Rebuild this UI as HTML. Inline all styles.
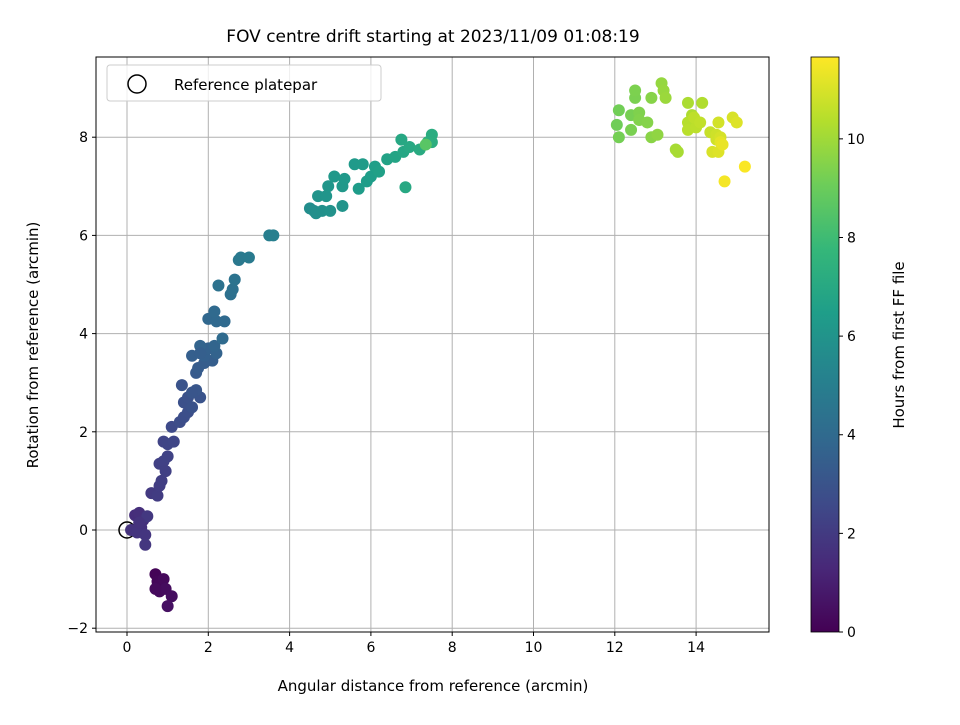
<!DOCTYPE html>
<html><head><meta charset="utf-8"><style>
body{margin:0;background:#fff;font-family:"Liberation Sans","DejaVu Sans",sans-serif}
</style></head><body>
<svg id="chart" width="960" height="720" xmlns="http://www.w3.org/2000/svg" font-family="DejaVu Sans, Liberation Sans, sans-serif">
<defs><linearGradient id="cb" x1="0" y1="1" x2="0" y2="0"></linearGradient></defs>
<text x="433" y="42" font-size="17" text-anchor="middle">FOV centre drift starting at 2023/11/09 01:08:19</text>
<g id="grid"></g><g id="pts"></g><g id="axes"></g>
<text x="433" y="691" font-size="15" text-anchor="middle">Angular distance from reference (arcmin)</text>
<text transform="translate(38,345) rotate(-90)" font-size="15" text-anchor="middle">Rotation from reference (arcmin)</text>
<g>
<rect x="107" y="65" width="274" height="36" rx="3" fill="#fff" fill-opacity="0.8" stroke="#ccc"/>
<circle cx="137" cy="84" r="9" fill="none" stroke="#000" stroke-width="1.5"/>
<text x="174" y="90" font-size="15">Reference platepar</text>
</g>
<rect x="811" y="57" width="28" height="575" fill="url(#cb)" stroke="#000" stroke-width="0.8"/>
<g id="cbticks"></g>
<text transform="translate(904,345) rotate(-90)" font-size="15" text-anchor="middle">Hours from first FF file</text>
</svg>
<script>
const xs=[0.7,0.75,0.8,0.9,0.8,0.95,1.1,1.0,0.7,
0.2,0.3,0.4,0.35,0.1,0.25,0.45,0.45,0.5,0.3,
0.6,0.75,0.8,0.85,0.8,0.9,1.0,0.95,0.9,1.0,1.15,
1.1,1.3,1.4,1.5,1.4,1.5,1.6,1.8,1.7,1.35,1.6,
1.7,1.75,1.9,2.1,1.6,1.9,2.0,2.2,1.8,2.15,1.8,
2.0,2.2,2.15,2.4,2.35,2.55,2.6,2.25,2.65,
2.75,2.8,3.0,3.5,3.6,
4.5,4.6,4.65,4.8,5.0,5.3,4.7,4.9,4.95,5.1,5.3,5.35,5.6,5.8,5.7,5.9,6.0,6.1,6.2,6.4,6.6,6.8,6.75,6.95,7.2,6.85,7.5,7.5,7.4,7.35,
12.05,12.1,12.1,12.4,12.4,12.5,12.5,12.6,12.6,12.8,12.9,12.9,13.05,13.15,13.2,13.25,13.5,13.55,
13.8,13.9,14.15,13.8,13.8,14.0,13.95,14.1,14.35,14.5,14.5,14.55,14.6,14.4,14.55,14.6,14.65,14.9,15.0,14.7,15.2];
const ys=[-0.9,-1.05,-1.1,-1.0,-1.25,-1.2,-1.35,-1.55,-1.2,
0.3,0.35,0.2,0.05,0.0,-0.05,-0.1,-0.3,0.28,0.15,
0.75,0.7,0.9,1.0,1.35,1.4,1.5,1.2,1.8,1.75,1.8,
2.1,2.2,2.3,2.4,2.6,2.7,2.5,2.7,2.85,2.95,2.8,
3.2,3.3,3.4,3.45,3.55,3.55,3.7,3.6,3.75,3.75,3.6,
4.3,4.25,4.45,4.25,3.9,4.8,4.9,4.98,5.1,
5.5,5.55,5.55,6.0,6.0,
6.55,6.5,6.45,6.5,6.5,6.6,6.8,6.8,7.0,7.2,7.0,7.15,7.45,7.45,6.95,7.1,7.2,7.4,7.3,7.55,7.6,7.7,7.95,7.8,7.75,6.98,8.05,7.9,7.9,7.85,
8.25,8.55,8.0,8.45,8.15,8.8,8.95,8.5,8.35,8.3,8.8,8.0,8.05,9.1,8.95,8.8,7.75,7.7,
8.7,8.45,8.7,8.3,8.15,8.2,8.4,8.3,8.1,8.05,7.95,8.3,8.0,7.7,7.7,7.9,7.85,8.4,8.3,7.1,7.4];
const ts=[0.1,0.15,0.2,0.25,0.3,0.35,0.4,0.5,0.3,
1.5,1.55,1.6,1.65,1.7,1.75,1.8,1.85,1.9,1.7,
2.0,2.05,2.1,2.15,2.2,2.25,2.3,2.2,2.35,2.4,2.45,
2.6,2.7,2.75,2.8,2.85,2.9,2.95,3.0,3.1,3.0,3.05,
3.3,3.35,3.4,3.45,3.5,3.55,3.6,3.65,3.7,3.75,3.5,
3.9,3.95,4.0,4.0,4.05,4.3,4.35,4.4,4.45,
4.7,4.75,4.8,5.0,5.05,
5.7,5.75,5.8,5.85,5.9,6.0,6.0,6.05,6.1,6.2,6.2,6.25,6.3,6.35,6.4,6.45,6.5,6.55,6.6,6.7,6.8,6.9,6.95,7.0,7.1,7.0,7.2,7.25,7.3,8.6,
9.1,9.15,9.2,9.25,9.3,9.3,9.35,9.4,9.45,9.5,9.55,9.6,9.7,9.8,9.85,9.9,10.1,10.15,
10.2,10.25,10.3,10.4,10.45,10.5,10.55,10.6,10.7,10.8,10.85,10.9,10.95,11.0,11.1,11.2,11.3,11.0,11.1,11.5,11.6];
const xTicks=[0,2,4,6,8,10,12,14], yTicks=[-2,0,2,4,6,8], cTicks=[0,2,4,6,8,10];
const X0=96,X1=769,Y0=57,Y1=632;
const sx=v=>127+v*40.65, sy=v=>530-v*49.1;
const TMAX=11.66, cy=t=>632-t/TMAX*575;
const V=[[68,1,84],[72,40,120],[62,74,137],[49,104,142],[38,130,142],[31,158,137],[53,183,121],[109,205,89],[180,222,44],[253,231,37]];
function vir(f){f=Math.max(0,Math.min(1,f))*9;const i=Math.min(8,Math.floor(f)),r=f-i;const c=V[i].map((a,k)=>Math.round(a+(V[i+1][k]-a)*r));return`rgb(${c})`;}
const NS="http://www.w3.org/2000/svg";
function mk(tag,attrs,parent,txt){const e=document.createElementNS(NS,tag);for(const k in attrs)e.setAttribute(k,attrs[k]);if(txt!==undefined)e.textContent=txt;document.getElementById(parent).appendChild(e);return e;}
const gr=document.querySelector('#cb');
for(let i=0;i<=9;i++){const s=document.createElementNS(NS,'stop');s.setAttribute('offset',i/9);s.setAttribute('stop-color',`rgb(${V[i]})`);gr.appendChild(s);}
xTicks.forEach(v=>{
const l=mk('line',{x1:sx(v),x2:sx(v),y1:Y0,y2:Y1,stroke:'#b0b0b0','stroke-width':1},'grid');


mk('line',{x1:sx(v),x2:sx(v),y1:Y1,y2:Y1+4,stroke:'#000'},'axes');
const t=mk('text',{x:sx(v),y:Y1+20,'font-size':14,'text-anchor':'middle'},'axes',String(v));


});
yTicks.forEach(v=>{
const l=mk('line',{x1:X0,x2:X1,y1:sy(v),y2:sy(v),stroke:'#b0b0b0','stroke-width':1},'grid');


mk('line',{x1:X0-4,x2:X0,y1:sy(v),y2:sy(v),stroke:'#000'},'axes');
const t=mk('text',{x:X0-8,y:sy(v)+5,'font-size':14,'text-anchor':'end'},'axes',v<0?'−'+(-v):String(v));


});
const fr=mk('rect',{x:X0,y:Y0,width:X1-X0,height:Y1-Y0,fill:'none',stroke:'#000','stroke-width':1},'axes');


const ref=mk('circle',{cx:sx(0),cy:sy(0),r:8,fill:'none',stroke:'#000','stroke-width':1.5},'pts');


xs.forEach((x,i)=>{
const c=mk('circle',{cx:sx(x),cy:sy(ys[i]),r:6,fill:vir(ts[i]/TMAX)},'pts');


});
cTicks.forEach(v=>{
mk('line',{x1:839,x2:843,y1:cy(v),y2:cy(v),stroke:'#000'},'cbticks');
const t=mk('text',{x:847,y:cy(v)+5,'font-size':14},'cbticks',String(v));


});
</script>
</body></html>
